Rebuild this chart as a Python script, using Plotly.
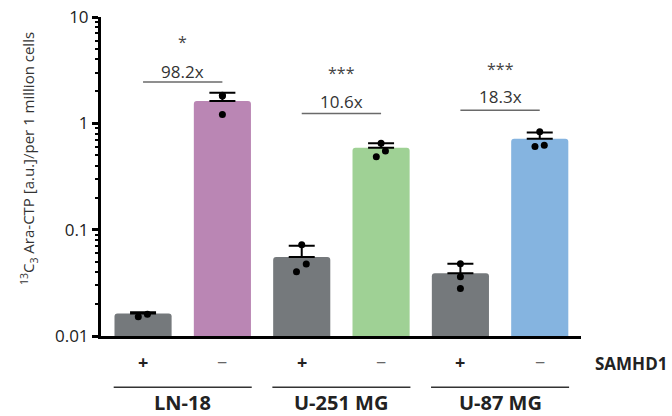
import numpy as np
import plotly.graph_objects as go

# ---------------- data ----------------
cell_lines = ["LN-18", "U-251 MG", "U-87 MG"]
samhd1 = ["+", "−", "+", "−", "+", "−"]
bar_means = [0.0163, 1.62, 0.0553, 0.59, 0.039, 0.718]
bar_err_up = [0.0004, 0.32, 0.0154, 0.058, 0.0088, 0.10]
replicates = [
    [0.0152, 0.0160],
    [1.84, 1.81, 1.21],
    [0.0723, 0.0476, 0.0402],
    [0.648, 0.549, 0.486],
    [0.0479, 0.0361, 0.0279],
    [0.835, 0.604, 0.621],
]
fold_change = ["98.2x", "10.6x", "18.3x"]
significance = ["*", "***", "***"]

# ---------------- style ----------------
bar_colors = ["#75797C", "#BA86B4", "#75797C", "#9FD195", "#75797C", "#85B4E0"]
jitter = [
    [-0.06, 0.055],
    [0.0, 0.0, 0.0],
    [0.0, 0.057, -0.066],
    [0.0, 0.055, -0.06],
    [0.0, 0.0, 0.0],
    [0.0, -0.06, 0.057],
]
bracket_y = [2.45, 1.24, 1.33]      # height of bracket line (data units)
label_y = [3.05, 1.62, 1.80]        # fold change label (data units)
star_y = [5.8, 3.0, 3.25]           # significance stars (data units)
FONT = "Open Sans"

x_pos = list(range(len(bar_means)))

fig = go.Figure()
fig.add_trace(go.Bar(
    x=x_pos, y=bar_means, width=0.72,
    marker=dict(color=bar_colors, line=dict(width=0)),
    error_y=dict(type="data", symmetric=False, array=bar_err_up,
                 arrayminus=[0] * len(bar_means),
                 color="black", thickness=2, width=13),
    showlegend=False, hoverinfo="skip",
))

px_, py_ = [], []
for i, (vals, jit) in enumerate(zip(replicates, jitter)):
    for v, j in zip(vals, jit):
        px_.append(i + j)
        py_.append(v)
fig.add_trace(go.Scatter(
    x=px_, y=py_, mode="markers",
    marker=dict(color="black", size=7),
    showlegend=False, hoverinfo="skip",
))

annotations = []
shapes = []
for g in range(len(cell_lines)):
    i0, i1 = 2 * g, 2 * g + 1
    fig.add_trace(go.Scatter(
        x=[i0, i1], y=[bracket_y[g], bracket_y[g]], mode="lines",
        line=dict(color="#6a6a6a", width=1.5),
        showlegend=False, hoverinfo="skip",
    ))
    annotations.append(dict(x=(i0 + i1) / 2, y=np.log10(label_y[g]), xref="x", yref="y",
                            text=fold_change[g], showarrow=False,
                            font=dict(family=FONT, size=17, color="#333333")))
    annotations.append(dict(x=(i0 + i1) / 2, y=np.log10(star_y[g]), xref="x", yref="y",
                            text=significance[g], showarrow=False,
                            font=dict(family=FONT, size=16, color="#444444")))
    # group underline and name
    shapes.append(dict(type="line", xref="x", yref="paper",
                       x0=i0 - 0.37, x1=i1 + 0.37, y0=-0.161, y1=-0.161,
                       line=dict(color="#333333", width=1.5)))
    annotations.append(dict(x=(i0 + i1) / 2, y=-0.207, xref="x", yref="paper",
                            text="<b>%s</b>" % cell_lines[g], showarrow=False,
                            yanchor="middle",
                            font=dict(family=FONT, size=20, color="#222222")))

for i, s in enumerate(samhd1):
    annotations.append(dict(x=i, y=-0.08, xref="x", yref="paper",
                            text="<b>%s</b>" % s if s == "+" else s, showarrow=False,
                            yanchor="middle",
                            font=dict(family=FONT, size=18,
                                      color="#222222" if s == "+" else "#666666")))
annotations.append(dict(x=1.025, y=-0.085, xref="paper", yref="paper",
                        text="<b>SAMHD1</b>", showarrow=False,
                        xanchor="left", yanchor="middle",
                        font=dict(family=FONT, size=17, color="#222222")))
annotations.append(dict(x=-0.178, y=0.555, xref="paper", yref="paper",
                        text="<sup>13</sup>C<sub>3</sub> Ara-CTP [a.u.]/per 1 million cells",
                        textangle=-90, showarrow=False,
                        font=dict(family=FONT, size=15, color="#333333")))

fig.update_layout(
    width=672, height=416,
    margin=dict(l=101, r=91, t=17, b=80, autoexpand=False),
    paper_bgcolor="white", plot_bgcolor="white",
    barcornerradius=3,
    annotations=annotations, shapes=shapes,
    font=dict(family=FONT),
)
fig.update_xaxes(range=[-0.53, 5.52], showticklabels=False, ticks="",
                 showgrid=False, zeroline=False, automargin=False,
                 showline=True, linecolor="black", linewidth=3)
fig.update_yaxes(type="log", range=[-2, 1], tickmode="linear", tick0=0, dtick=1,
                 ticks="outside", ticklen=6, tickwidth=2.5, tickcolor="black",
                 minor=dict(ticks="outside", ticklen=3, tickwidth=2, tickcolor="black",
                            dtick="D1", showgrid=False),
                 showgrid=False, zeroline=False, automargin=False,
                 showline=True, linecolor="black", linewidth=3,
                 tickfont=dict(family=FONT, size=17, color="#222222"))

fig.write_html("out.html", config={"displayModeBar": False},
               post_script="document.body.style.margin='0';")
